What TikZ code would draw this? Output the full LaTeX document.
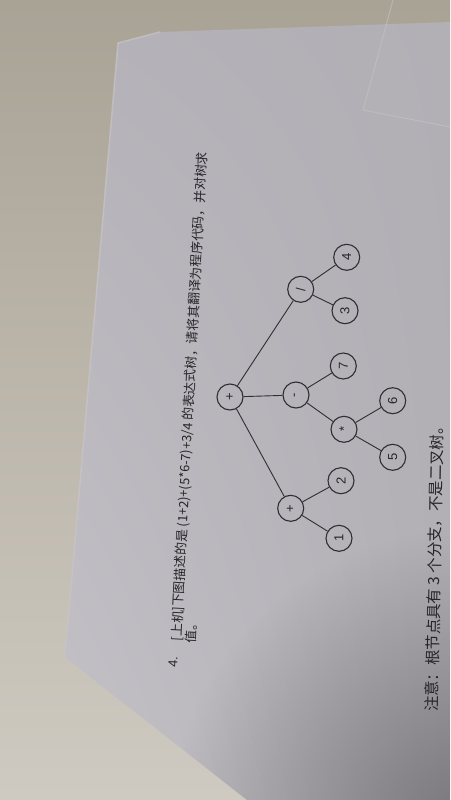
\documentclass[tikz,border=0pt]{standalone}
\usepackage{fontspec}
\setmainfont{Liberation Sans}
\newfontfamily\cjk{Noto Sans CJK SC}
\usetikzlibrary{fadings,shadings}
\definecolor{beigeA}{HTML}{A9A396}
\definecolor{beigeB}{HTML}{CFCAC1}
\definecolor{paperUL}{HTML}{B5B1B8}
\definecolor{paperUR}{HTML}{B1AEB4}
\definecolor{paperLL}{HTML}{C4C1C7}
\definecolor{paperLR}{HTML}{B2AFB5}
\definecolor{shadow}{HTML}{77747A}
\definecolor{edgelight}{HTML}{C9C4C8}
\definecolor{ink}{HTML}{262529}
\definecolor{lineink}{HTML}{2F2E32}
\tikzfading[name=cornerfade, inner color=transparent!0, outer color=transparent!100]
\begin{document}
\begin{tikzpicture}[x=1pt,y=1pt,
  tn/.style={circle, draw=lineink, line width=1.1pt, minimum size=26pt, inner sep=0pt,
             text=ink, font=\fontsize{13}{13}\selectfont, rotate=90},
  ed/.style={draw=lineink, line width=0.9pt},
  txt/.style={text=ink, inner sep=0pt, font=\cjk\fontsize{12.8}{12.8}\selectfont},
  note/.style={text=ink, inner sep=0pt, font=\cjk\fontsize{15.4}{15.4}\selectfont}]
\useasboundingbox (0,0) rectangle (450,-800);
% background (table)
\shade[top color=beigeA, bottom color=beigeB] (0,0) rectangle (450,-800);
% paper
\coordinate (pTL) at (118,-43);
\coordinate (pBL) at (65,-657);
\coordinate (pBR) at (247,-800);
\begin{scope}
  \clip (pTL) -- (160,-32) -- (393,-24) -- (450,-22) -- (450,-800) -- (pBR) -- (pBL) -- cycle;
  \shade[upper left=paperUL, upper right=paperUR, lower left=paperLL, lower right=paperLR]
    (60,0) rectangle (450,-800);
  \fill[shadow, path fading=cornerfade] (470,-830) circle (300);
  % second sheet at top right
  \fill[paperUR!90!white, opacity=0.2] (393,0) -- (363,-110) -- (450,-127) -- (450,0) -- cycle;
\end{scope}
\draw[edgelight, line width=1.0pt, opacity=0.55] (393,0) -- (363,-110) -- (450,-127);
\draw[edgelight, line width=1.5pt, opacity=0.7] (160,-32) -- (pTL) -- (pBL);
% text
\node[txt, rotate=87] (num) at (173,-662) {\fontspec{Liberation Sans}4.};
\node[txt, rotate=87, anchor=west] (line1) at (177,-641)
  {[上机]下图描述的是 (1+2)+(5*6-7)+3/4 的表达式树，请将其翻译为程序代码，并对树求};
\node[txt, rotate=87, anchor=west] (line2) at (191,-643) {值。};
\node[note, rotate=89, anchor=west] (notice) at (432,-712)
  {注意：根节点具有 3 个分支，不是二叉树。};
% tree
\node[tn] (root) at (230,-397) {+};
\node[tn] (div) at (300.7,-289.3) {/};
\node[tn] (n4) at (346.7,-257.3) {4};
\node[tn] (n3) at (345,-310.7) {3};
\node[tn] (minus) at (296,-395) {-};
\node[tn] (n7) at (343.3,-366) {7};
\node[tn] (times) at (344,-429.3) {*};
\node[tn] (n6) at (392.7,-400.7) {6};
\node[tn] (n5) at (392.7,-457.3) {5};
\node[tn] (plus) at (290.7,-508.3) {+};
\node[tn] (n2) at (341,-480.7) {2};
\node[tn] (n1) at (339,-538.3) {1};
\draw[ed] (root) -- (div);
\draw[ed] (root) -- (minus);
\draw[ed] (root) -- (plus);
\draw[ed] (div) -- (n4);
\draw[ed] (div) -- (n3);
\draw[ed] (minus) -- (n7);
\draw[ed] (minus) -- (times);
\draw[ed] (times) -- (n6);
\draw[ed] (times) -- (n5);
\draw[ed] (plus) -- (n2);
\draw[ed] (plus) -- (n1);
\end{tikzpicture}
\end{document}
